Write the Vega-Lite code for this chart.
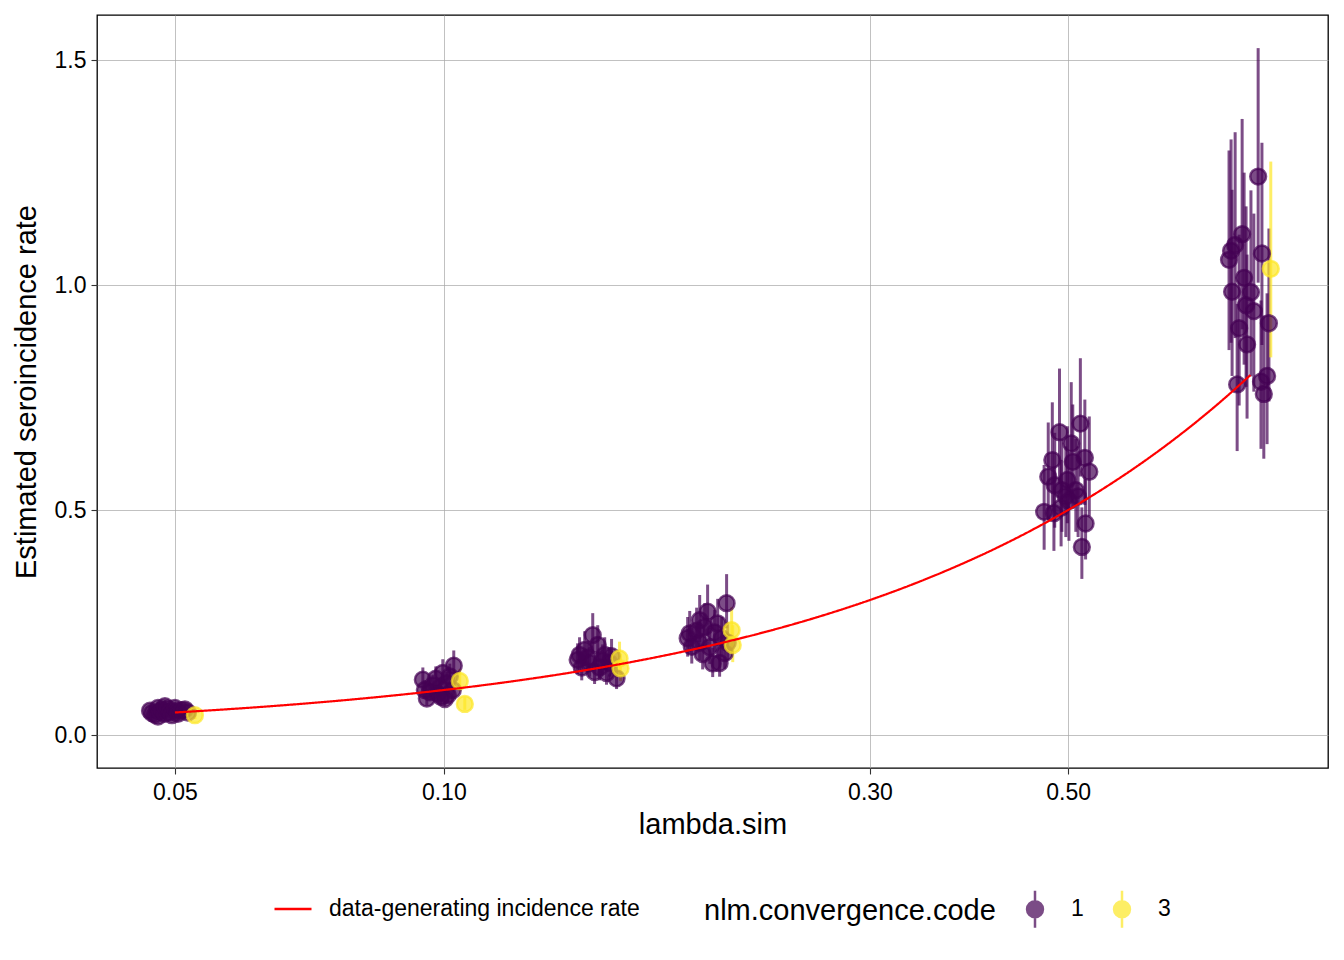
{
  "$schema": "https://vega.github.io/schema/vega-lite/v6.json",
  "width": 1231,
  "height": 753,
  "autosize": {"type": "none"},
  "padding": {"left": 97, "top": 15, "right": 16, "bottom": 192},
  "background": "white",
  "datasets": {
    "fits": [
      {"lambda_sim": 0.04689, "est": 0.054, "lo": 0.0437, "hi": 0.0659, "code": "1"},
      {"lambda_sim": 0.04713, "est": 0.049, "lo": 0.0397, "hi": 0.0598, "code": "1"},
      {"lambda_sim": 0.04749, "est": 0.045, "lo": 0.0365, "hi": 0.0549, "code": "1"},
      {"lambda_sim": 0.04786, "est": 0.060, "lo": 0.0486, "hi": 0.0732, "code": "1"},
      {"lambda_sim": 0.04786, "est": 0.041, "lo": 0.0332, "hi": 0.0500, "code": "1"},
      {"lambda_sim": 0.04811, "est": 0.052, "lo": 0.0421, "hi": 0.0634, "code": "1"},
      {"lambda_sim": 0.04836, "est": 0.056, "lo": 0.0454, "hi": 0.0683, "code": "1"},
      {"lambda_sim": 0.04873, "est": 0.047, "lo": 0.0381, "hi": 0.0573, "code": "1"},
      {"lambda_sim": 0.04873, "est": 0.064, "lo": 0.0518, "hi": 0.0781, "code": "1"},
      {"lambda_sim": 0.04911, "est": 0.058, "lo": 0.0470, "hi": 0.0708, "code": "1"},
      {"lambda_sim": 0.04936, "est": 0.051, "lo": 0.0413, "hi": 0.0622, "code": "1"},
      {"lambda_sim": 0.04961, "est": 0.044, "lo": 0.0356, "hi": 0.0537, "code": "1"},
      {"lambda_sim": 0.05000, "est": 0.060, "lo": 0.0486, "hi": 0.0732, "code": "1"},
      {"lambda_sim": 0.05039, "est": 0.053, "lo": 0.0429, "hi": 0.0647, "code": "1"},
      {"lambda_sim": 0.05039, "est": 0.047, "lo": 0.0381, "hi": 0.0573, "code": "1"},
      {"lambda_sim": 0.05091, "est": 0.055, "lo": 0.0446, "hi": 0.0671, "code": "1"},
      {"lambda_sim": 0.05131, "est": 0.057, "lo": 0.0462, "hi": 0.0695, "code": "1"},
      {"lambda_sim": 0.05170, "est": 0.050, "lo": 0.0405, "hi": 0.0610, "code": "1"},
      {"lambda_sim": 0.09474, "est": 0.123, "lo": 0.0996, "hi": 0.1501, "code": "1"},
      {"lambda_sim": 0.10260, "est": 0.154, "lo": 0.1247, "hi": 0.1879, "code": "1"},
      {"lambda_sim": 0.09974, "est": 0.138, "lo": 0.1118, "hi": 0.1684, "code": "1"},
      {"lambda_sim": 0.09572, "est": 0.081, "lo": 0.0656, "hi": 0.0988, "code": "1"},
      {"lambda_sim": 0.09847, "est": 0.092, "lo": 0.0745, "hi": 0.1122, "code": "1"},
      {"lambda_sim": 0.10104, "est": 0.089, "lo": 0.0721, "hi": 0.1086, "code": "1"},
      {"lambda_sim": 0.09721, "est": 0.110, "lo": 0.0891, "hi": 0.1342, "code": "1"},
      {"lambda_sim": 0.09897, "est": 0.105, "lo": 0.0851, "hi": 0.1281, "code": "1"},
      {"lambda_sim": 0.10078, "est": 0.115, "lo": 0.0932, "hi": 0.1403, "code": "1"},
      {"lambda_sim": 0.09646, "est": 0.095, "lo": 0.0770, "hi": 0.1159, "code": "1"},
      {"lambda_sim": 0.10234, "est": 0.100, "lo": 0.0810, "hi": 0.1220, "code": "1"},
      {"lambda_sim": 0.09796, "est": 0.125, "lo": 0.1013, "hi": 0.1525, "code": "1"},
      {"lambda_sim": 0.10026, "est": 0.080, "lo": 0.0648, "hi": 0.0976, "code": "1"},
      {"lambda_sim": 0.09523, "est": 0.100, "lo": 0.0810, "hi": 0.1220, "code": "1"},
      {"lambda_sim": 0.10156, "est": 0.130, "lo": 0.1053, "hi": 0.1586, "code": "1"},
      {"lambda_sim": 0.09923, "est": 0.085, "lo": 0.0689, "hi": 0.1037, "code": "1"},
      {"lambda_sim": 0.1468, "est": 0.222, "lo": 0.1798, "hi": 0.2708, "code": "1"},
      {"lambda_sim": 0.1438, "est": 0.189, "lo": 0.1531, "hi": 0.2306, "code": "1"},
      {"lambda_sim": 0.1487, "est": 0.200, "lo": 0.1620, "hi": 0.2440, "code": "1"},
      {"lambda_sim": 0.1412, "est": 0.167, "lo": 0.1353, "hi": 0.2037, "code": "1"},
      {"lambda_sim": 0.1561, "est": 0.126, "lo": 0.1021, "hi": 0.1537, "code": "1"},
      {"lambda_sim": 0.1514, "est": 0.178, "lo": 0.1442, "hi": 0.2172, "code": "1"},
      {"lambda_sim": 0.1456, "est": 0.160, "lo": 0.1296, "hi": 0.1952, "code": "1"},
      {"lambda_sim": 0.1494, "est": 0.150, "lo": 0.1215, "hi": 0.1830, "code": "1"},
      {"lambda_sim": 0.1533, "est": 0.160, "lo": 0.1296, "hi": 0.1952, "code": "1"},
      {"lambda_sim": 0.1427, "est": 0.150, "lo": 0.1215, "hi": 0.1830, "code": "1"},
      {"lambda_sim": 0.1475, "est": 0.140, "lo": 0.1134, "hi": 0.1708, "code": "1"},
      {"lambda_sim": 0.1521, "est": 0.138, "lo": 0.1118, "hi": 0.1684, "code": "1"},
      {"lambda_sim": 0.1449, "est": 0.172, "lo": 0.1393, "hi": 0.2098, "code": "1"},
      {"lambda_sim": 0.1506, "est": 0.165, "lo": 0.1337, "hi": 0.2013, "code": "1"},
      {"lambda_sim": 0.1541, "est": 0.175, "lo": 0.1418, "hi": 0.2135, "code": "1"},
      {"lambda_sim": 0.1419, "est": 0.178, "lo": 0.1442, "hi": 0.2172, "code": "1"},
      {"lambda_sim": 0.2073, "est": 0.293, "lo": 0.2373, "hi": 0.3575, "code": "1"},
      {"lambda_sim": 0.1974, "est": 0.274, "lo": 0.2219, "hi": 0.3343, "code": "1"},
      {"lambda_sim": 0.1934, "est": 0.255, "lo": 0.2066, "hi": 0.3111, "code": "1"},
      {"lambda_sim": 0.1885, "est": 0.226, "lo": 0.1831, "hi": 0.2757, "code": "1"},
      {"lambda_sim": 0.1875, "est": 0.215, "lo": 0.1742, "hi": 0.2623, "code": "1"},
      {"lambda_sim": 0.1895, "est": 0.196, "lo": 0.1588, "hi": 0.2391, "code": "1"},
      {"lambda_sim": 0.2000, "est": 0.159, "lo": 0.1288, "hi": 0.1940, "code": "1"},
      {"lambda_sim": 0.2036, "est": 0.160, "lo": 0.1296, "hi": 0.1952, "code": "1"},
      {"lambda_sim": 0.1959, "est": 0.240, "lo": 0.1944, "hi": 0.2928, "code": "1"},
      {"lambda_sim": 0.2010, "est": 0.228, "lo": 0.1847, "hi": 0.2782, "code": "1"},
      {"lambda_sim": 0.2047, "est": 0.215, "lo": 0.1742, "hi": 0.2623, "code": "1"},
      {"lambda_sim": 0.1934, "est": 0.205, "lo": 0.1661, "hi": 0.2501, "code": "1"},
      {"lambda_sim": 0.1985, "est": 0.195, "lo": 0.1580, "hi": 0.2379, "code": "1"},
      {"lambda_sim": 0.2063, "est": 0.182, "lo": 0.1474, "hi": 0.2220, "code": "1"},
      {"lambda_sim": 0.1949, "est": 0.180, "lo": 0.1458, "hi": 0.2196, "code": "1"},
      {"lambda_sim": 0.2026, "est": 0.248, "lo": 0.2009, "hi": 0.3026, "code": "1"},
      {"lambda_sim": 0.1919, "est": 0.232, "lo": 0.1879, "hi": 0.2830, "code": "1"},
      {"lambda_sim": 0.2079, "est": 0.205, "lo": 0.1661, "hi": 0.2501, "code": "1"},
      {"lambda_sim": 0.489, "est": 0.673, "lo": 0.5586, "hi": 0.8143, "code": "1"},
      {"lambda_sim": 0.516, "est": 0.692, "lo": 0.5744, "hi": 0.8373, "code": "1"},
      {"lambda_sim": 0.504, "est": 0.648, "lo": 0.5378, "hi": 0.7841, "code": "1"},
      {"lambda_sim": 0.480, "est": 0.611, "lo": 0.5071, "hi": 0.7393, "code": "1"},
      {"lambda_sim": 0.506, "est": 0.607, "lo": 0.5038, "hi": 0.7345, "code": "1"},
      {"lambda_sim": 0.522, "est": 0.616, "lo": 0.5113, "hi": 0.7454, "code": "1"},
      {"lambda_sim": 0.528, "est": 0.585, "lo": 0.4856, "hi": 0.7079, "code": "1"},
      {"lambda_sim": 0.475, "est": 0.574, "lo": 0.4764, "hi": 0.6945, "code": "1"},
      {"lambda_sim": 0.499, "est": 0.567, "lo": 0.4706, "hi": 0.6861, "code": "1"},
      {"lambda_sim": 0.492, "est": 0.544, "lo": 0.4515, "hi": 0.6582, "code": "1"},
      {"lambda_sim": 0.510, "est": 0.544, "lo": 0.4515, "hi": 0.6582, "code": "1"},
      {"lambda_sim": 0.497, "est": 0.530, "lo": 0.4399, "hi": 0.6413, "code": "1"},
      {"lambda_sim": 0.470, "est": 0.496, "lo": 0.4117, "hi": 0.6002, "code": "1"},
      {"lambda_sim": 0.482, "est": 0.493, "lo": 0.4092, "hi": 0.5965, "code": "1"},
      {"lambda_sim": 0.523, "est": 0.470, "lo": 0.3901, "hi": 0.5687, "code": "1"},
      {"lambda_sim": 0.518, "est": 0.418, "lo": 0.3469, "hi": 0.5058, "code": "1"},
      {"lambda_sim": 0.483, "est": 0.555, "lo": 0.4607, "hi": 0.6716, "code": "1"},
      {"lambda_sim": 0.501, "est": 0.520, "lo": 0.4316, "hi": 0.6292, "code": "1"},
      {"lambda_sim": 0.513, "est": 0.530, "lo": 0.4399, "hi": 0.6413, "code": "1"},
      {"lambda_sim": 0.491, "est": 0.505, "lo": 0.4192, "hi": 0.6111, "code": "1"},
      {"lambda_sim": 0.816, "est": 1.241, "lo": 1.0052, "hi": 1.5264, "code": "1"},
      {"lambda_sim": 0.783, "est": 1.113, "lo": 0.9015, "hi": 1.3690, "code": "1"},
      {"lambda_sim": 0.769, "est": 1.089, "lo": 0.8821, "hi": 1.3395, "code": "1"},
      {"lambda_sim": 0.761, "est": 1.076, "lo": 0.8716, "hi": 1.3235, "code": "1"},
      {"lambda_sim": 0.757, "est": 1.056, "lo": 0.8554, "hi": 1.2989, "code": "1"},
      {"lambda_sim": 0.824, "est": 1.070, "lo": 0.8667, "hi": 1.3161, "code": "1"},
      {"lambda_sim": 0.787, "est": 1.016, "lo": 0.8230, "hi": 1.2497, "code": "1"},
      {"lambda_sim": 0.763, "est": 0.985, "lo": 0.7979, "hi": 1.2116, "code": "1"},
      {"lambda_sim": 0.801, "est": 0.984, "lo": 0.7970, "hi": 1.2103, "code": "1"},
      {"lambda_sim": 0.807, "est": 0.942, "lo": 0.7630, "hi": 1.1587, "code": "1"},
      {"lambda_sim": 0.839, "est": 0.915, "lo": 0.7412, "hi": 1.1255, "code": "1"},
      {"lambda_sim": 0.777, "est": 0.904, "lo": 0.7322, "hi": 1.1119, "code": "1"},
      {"lambda_sim": 0.793, "est": 0.868, "lo": 0.7031, "hi": 1.0676, "code": "1"},
      {"lambda_sim": 0.791, "est": 0.955, "lo": 0.7736, "hi": 1.1747, "code": "1"},
      {"lambda_sim": 0.773, "est": 0.779, "lo": 0.6310, "hi": 0.9582, "code": "1"},
      {"lambda_sim": 0.822, "est": 0.785, "lo": 0.6359, "hi": 0.9656, "code": "1"},
      {"lambda_sim": 0.835, "est": 0.798, "lo": 0.6464, "hi": 0.9815, "code": "1"},
      {"lambda_sim": 0.828, "est": 0.758, "lo": 0.6140, "hi": 0.9323, "code": "1"},
      {"lambda_sim": 0.05264, "est": 0.044, "lo": 0.0356, "hi": 0.0537, "code": "3"},
      {"lambda_sim": 0.10420, "est": 0.120, "lo": 0.0972, "hi": 0.1464, "code": "3"},
      {"lambda_sim": 0.10556, "est": 0.069, "lo": 0.0559, "hi": 0.0842, "code": "3"},
      {"lambda_sim": 0.1573, "est": 0.170, "lo": 0.1377, "hi": 0.2074, "code": "3"},
      {"lambda_sim": 0.1577, "est": 0.148, "lo": 0.1199, "hi": 0.1806, "code": "3"},
      {"lambda_sim": 0.2100, "est": 0.233, "lo": 0.1887, "hi": 0.2843, "code": "3"},
      {"lambda_sim": 0.2106, "est": 0.200, "lo": 0.1620, "hi": 0.2440, "code": "3"},
      {"lambda_sim": 0.843, "est": 1.036, "lo": 0.8392, "hi": 1.2743, "code": "3"}
    ],
    "truth": [
      {"lambda_sim": 0.05, "est": 0.05, "series": "data-generating incidence rate"},
      {"lambda_sim": 0.06, "est": 0.06, "series": "data-generating incidence rate"},
      {"lambda_sim": 0.07, "est": 0.07, "series": "data-generating incidence rate"},
      {"lambda_sim": 0.08, "est": 0.08, "series": "data-generating incidence rate"},
      {"lambda_sim": 0.09, "est": 0.09, "series": "data-generating incidence rate"},
      {"lambda_sim": 0.10, "est": 0.10, "series": "data-generating incidence rate"},
      {"lambda_sim": 0.12, "est": 0.12, "series": "data-generating incidence rate"},
      {"lambda_sim": 0.14, "est": 0.14, "series": "data-generating incidence rate"},
      {"lambda_sim": 0.16, "est": 0.16, "series": "data-generating incidence rate"},
      {"lambda_sim": 0.18, "est": 0.18, "series": "data-generating incidence rate"},
      {"lambda_sim": 0.20, "est": 0.20, "series": "data-generating incidence rate"},
      {"lambda_sim": 0.23, "est": 0.23, "series": "data-generating incidence rate"},
      {"lambda_sim": 0.26, "est": 0.26, "series": "data-generating incidence rate"},
      {"lambda_sim": 0.30, "est": 0.30, "series": "data-generating incidence rate"},
      {"lambda_sim": 0.34, "est": 0.34, "series": "data-generating incidence rate"},
      {"lambda_sim": 0.38, "est": 0.38, "series": "data-generating incidence rate"},
      {"lambda_sim": 0.42, "est": 0.42, "series": "data-generating incidence rate"},
      {"lambda_sim": 0.46, "est": 0.46, "series": "data-generating incidence rate"},
      {"lambda_sim": 0.50, "est": 0.50, "series": "data-generating incidence rate"},
      {"lambda_sim": 0.55, "est": 0.55, "series": "data-generating incidence rate"},
      {"lambda_sim": 0.60, "est": 0.60, "series": "data-generating incidence rate"},
      {"lambda_sim": 0.65, "est": 0.65, "series": "data-generating incidence rate"},
      {"lambda_sim": 0.70, "est": 0.70, "series": "data-generating incidence rate"},
      {"lambda_sim": 0.75, "est": 0.75, "series": "data-generating incidence rate"},
      {"lambda_sim": 0.80, "est": 0.80, "series": "data-generating incidence rate"}
    ]
  },
  "layer": [
    {
      "data": {"name": "fits"},
      "mark": {"type": "rule", "strokeWidth": 3, "opacity": 0.7},
      "encoding": {
        "x": {
          "field": "lambda_sim",
          "type": "quantitative",
          "title": "lambda.sim",
          "scale": {"type": "log", "domain": [0.0409, 0.977], "nice": false},
          "axis": {"values": [0.05, 0.1, 0.3, 0.5], "format": ".2f", "labelFlush": false, "labelPadding": 7, "titlePadding": 6}
        },
        "y": {
          "field": "lo",
          "type": "quantitative",
          "title": "Estimated seroincidence rate",
          "scale": {"domain": [-0.0733, 1.6], "nice": false, "zero": false},
          "axis": {"values": [0, 0.5, 1, 1.5], "format": ".1f", "titlePadding": 13}
        },
        "y2": {"field": "hi"},
        "color": {
          "field": "code",
          "type": "nominal",
          "scale": {"domain": ["1", "3"], "range": ["#440154", "#FDE725"]},
          "legend": {
            "title": "nlm.convergence.code",
            "orient": "none",
            "legendX": 607,
            "legendY": 874,
            "direction": "horizontal",
            "titleOrient": "left",
            "titleAnchor": "middle",
            "titleBaseline": "middle",
            "titlePadding": 19,
            "titleLimit": 0,
            "labelLimit": 0,
            "labelOffset": 16,
            "columnPadding": 18,
            "symbolSize": 1369,
            "symbolType": "M0,-1L0,1M-0.43,0A0.43,0.43,0,1,0,0.43,0A0.43,0.43,0,1,0,-0.43,0Z",
            "symbolStrokeWidth": 2.5,
            "encode": {
              "symbols": {
                "update": {
                  "fill": {"scale": "color", "field": "value"},
                  "stroke": {"scale": "color", "field": "value"},
                  "opacity": {"value": 0.75}
                }
              }
            }
          }
        }
      }
    },
    {
      "data": {"name": "fits"},
      "mark": {"type": "point", "filled": true, "size": 250, "fillOpacity": 0.7, "strokeOpacity": 0.7, "strokeWidth": 2.5},
      "encoding": {
        "x": {"field": "lambda_sim", "type": "quantitative", "title": "lambda.sim"},
        "y": {"field": "est", "type": "quantitative", "title": "Estimated seroincidence rate"},
        "color": {"field": "code", "type": "nominal"},
        "stroke": {
          "field": "code",
          "type": "nominal",
          "scale": {"domain": ["1", "3"], "range": ["#440154", "#FDE725"]},
          "legend": null
        }
      }
    },
    {
      "data": {"name": "truth"},
      "mark": {"type": "line", "color": "#FF0000", "strokeWidth": 2.2, "interpolate": "monotone"},
      "encoding": {
        "x": {"field": "lambda_sim", "type": "quantitative", "title": "lambda.sim"},
        "y": {"field": "est", "type": "quantitative", "title": "Estimated seroincidence rate"},
        "strokeDash": {
          "field": "series",
          "type": "nominal",
          "scale": {"domain": ["data-generating incidence rate"], "range": [[1, 0]]},
          "legend": {
            "title": null,
            "orient": "none",
            "legendX": 176,
            "legendY": 874,
            "symbolType": "stroke",
            "symbolSize": 1369,
            "symbolStrokeColor": "#FF0000",
            "symbolStrokeWidth": 2.5,
            "labelOffset": 16,
            "labelLimit": 0
          }
        }
      }
    }
  ],
  "config": {
    "font": "Liberation Sans",
    "view": {"stroke": "#000000", "strokeWidth": 1.3},
    "axis": {
      "domain": false,
      "grid": true,
      "gridColor": "#a6a6a6",
      "gridWidth": 0.7,
      "tickColor": "#333333",
      "tickSize": 6,
      "tickWidth": 1.1,
      "labelFont": "Liberation Sans",
      "labelFontSize": 23,
      "labelColor": "#000000",
      "labelPadding": 5,
      "titleFont": "Liberation Sans",
      "titleFontSize": 29,
      "titleFontWeight": "normal",
      "titleColor": "#000000"
    },
    "legend": {
      "padding": 0,
      "labelFont": "Liberation Sans",
      "labelFontSize": 23,
      "labelColor": "#000000",
      "titleFont": "Liberation Sans",
      "titleFontSize": 29,
      "titleFontWeight": "normal",
      "titleColor": "#000000"
    }
  }
}
